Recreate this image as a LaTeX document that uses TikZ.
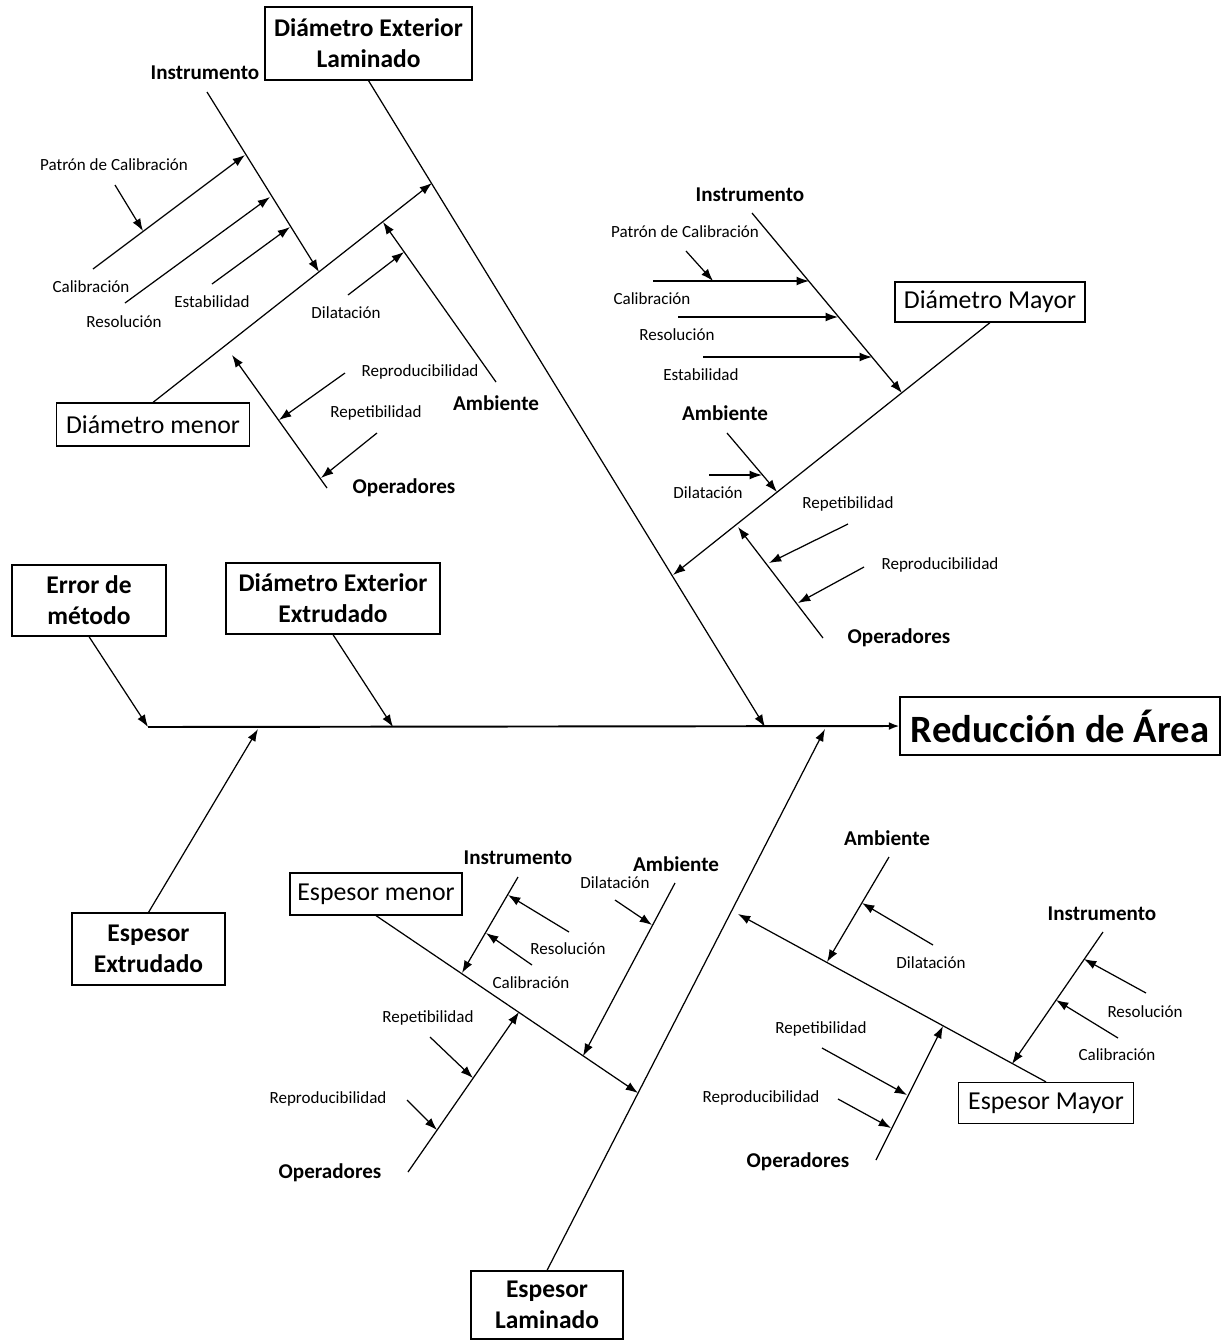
\documentclass[tikz,border=0pt]{standalone}
\usepackage{fontspec}
\setmainfont{Carlito}
\usetikzlibrary{arrows.meta, positioning}

\tikzset{
  bone/.style={line width=0.7pt},
  arr/.style={bone, -{Latex[length=7pt,width=5pt]}},
  spine/.style={line width=1.1pt, -{Latex[length=6pt,width=4.5pt]}},
  box/.style={draw, line width=0.7pt, align=center, inner sep=0pt},
  causebox/.style={box, font=\fontsize{14.5}{17.6}\selectfont\bfseries},
  partbox/.style={box, font=\fontsize{14.7}{17}\selectfont},
  effectbox/.style={box, font=\fontsize{22}{26}\selectfont\bfseries},
  group/.style={font=\fontsize{12}{14}\selectfont\bfseries},
  item/.style={font=\fontsize{9.7}{11}\selectfont},
}

\begin{document}
\begin{tikzpicture}[x=0.02cm, y=-0.02cm]
  \useasboundingbox (0,0) rectangle (1230,1340);

  % boxes
  \node[effectbox, minimum width=6.4cm, minimum height=1.16cm] (red) at (1060,726) {Reducción de Área};
  \node[causebox, minimum width=3.08cm, minimum height=1.42cm] (err) at (89,600.5) {Error de\\método};
  \node[causebox, minimum width=4.28cm, minimum height=1.42cm] (dee) at (333,598.5) {Diámetro Exterior\\Extrudado};
  \node[causebox, minimum width=4.14cm, minimum height=1.46cm] (del) at (368.5,43.5) {Diámetro Exterior\\Laminado};
  \node[causebox, minimum width=3.06cm, minimum height=1.44cm] (eex) at (148.5,949) {Espesor\\Extrudado};
  \node[causebox, minimum width=3.04cm, minimum height=1.36cm] (ela) at (547,1305) {Espesor\\Laminado};
  \node[partbox, minimum width=3.86cm, minimum height=0.86cm] (dmn) at (153,424.5) {Diámetro menor};
  \node[partbox, minimum width=3.8cm, minimum height=0.8cm] (dmy) at (990,302) {Diámetro Mayor};
  \node[partbox, minimum width=3.44cm, minimum height=0.84cm] (emn) at (376,894) {Espesor menor};
  \node[partbox, minimum width=3.5cm, minimum height=0.82cm] (emy) at (1046,1103) {Espesor Mayor};

  % main spine and causes
  \coordinate (sp0) at (148,727);
  \draw[spine] (sp0) -- (red.west);
  \coordinate (dee-e) at (393,727);
  \coordinate (del-e) at (765,727);
  \coordinate (eex-e) at (258,729);
  \coordinate (ela-e) at (825,729);
  \draw[arr] (err.south) -- (sp0);
  \draw[arr] (dee.south) -- (dee-e);
  \draw[arr] (del.south) -- (del-e);
  \draw[arr] (eex.north) -- (eex-e);
  \draw[arr] (ela.north) -- (ela-e);

  % Diametro menor
  \coordinate (dmn-e) at (432,183);
  \draw[arr] (dmn.north) -- (dmn-e);
  \coordinate (a-ins-s) at (207,92);   \coordinate (a-ins-e) at (319,272);
  \coordinate (a-cal-s) at (93,269);   \coordinate (a-cal-e) at (245,155);
  \coordinate (a-pat-s) at (115,185);  \coordinate (a-pat-e) at (143,231);
  \coordinate (a-res-s) at (125,303);  \coordinate (a-res-e) at (270,197);
  \coordinate (a-est-s) at (212,284);  \coordinate (a-est-e) at (290,227);
  \coordinate (a-amb-s) at (496,382);  \coordinate (a-amb-e) at (383,222);
  \coordinate (a-dil-s) at (348,295);  \coordinate (a-dil-e) at (404,252);
  \coordinate (a-ope-s) at (327,488);  \coordinate (a-ope-e) at (232,355);
  \coordinate (a-rep-s) at (345,373);  \coordinate (a-rep-e) at (279,420);
  \coordinate (a-ret-s) at (377,433);  \coordinate (a-ret-e) at (321,478);
  \draw[arr] (a-ins-s) -- (a-ins-e);
  \draw[arr] (a-cal-s) -- (a-cal-e);
  \draw[arr] (a-pat-s) -- (a-pat-e);
  \draw[arr] (a-res-s) -- (a-res-e);
  \draw[arr] (a-est-s) -- (a-est-e);
  \draw[arr] (a-amb-s) -- (a-amb-e);
  \draw[arr] (a-dil-s) -- (a-dil-e);
  \draw[arr] (a-ope-s) -- (a-ope-e);
  \draw[arr] (a-rep-s) -- (a-rep-e);
  \draw[arr] (a-ret-s) -- (a-ret-e);
  \node[group] (a-ins) at (205,73) {Instrumento};
  \node[item] (a-pat) at (114,165) {Patrón de Calibración};
  \node[item] (a-cal) at (91,287) {Calibración};
  \node[item] (a-res) at (124,322) {Resolución};
  \node[item] (a-est) at (212,302) {Estabilidad};
  \node[group] (a-amb) at (496,403) {Ambiente};
  \node[item] (a-dil) at (346,313) {Dilatación};
  \node[item] (a-rep) at (420,372) {Reproducibilidad};
  \node[item] (a-ret) at (376,413) {Repetibilidad};
  \node[group] (a-ope) at (404,488) {Operadores};

  % Diametro Mayor
  \coordinate (dmy-e) at (673,575);
  \draw[arr] (dmy.south) -- (dmy-e);
  \coordinate (b-ins-s) at (752,213);  \coordinate (b-ins-e) at (902,393);
  \coordinate (b-pat-s) at (686,251);  \coordinate (b-pat-e) at (713,281);
  \coordinate (b-cal-s) at (653,281);  \coordinate (b-cal-e) at (809,281);
  \coordinate (b-res-s) at (678,317);  \coordinate (b-res-e) at (838,317);
  \coordinate (b-est-s) at (703,357);  \coordinate (b-est-e) at (872,357);
  \coordinate (b-amb-s) at (727,433);  \coordinate (b-amb-e) at (777,492);
  \coordinate (b-dil-s) at (709,475);  \coordinate (b-dil-e) at (762,475);
  \coordinate (b-ope-s) at (823,638);  \coordinate (b-ope-e) at (738,527);
  \coordinate (b-ret-s) at (848,524);  \coordinate (b-ret-e) at (769,563);
  \coordinate (b-rep-s) at (864,567);  \coordinate (b-rep-e) at (798,603);
  \draw[arr] (b-ins-s) -- (b-ins-e);
  \draw[arr] (b-pat-s) -- (b-pat-e);
  \draw[arr] (b-cal-s) -- (b-cal-e);
  \draw[arr] (b-res-s) -- (b-res-e);
  \draw[arr] (b-est-s) -- (b-est-e);
  \draw[arr] (b-amb-s) -- (b-amb-e);
  \draw[arr] (b-dil-s) -- (b-dil-e);
  \draw[arr] (b-ope-s) -- (b-ope-e);
  \draw[arr] (b-ret-s) -- (b-ret-e);
  \draw[arr] (b-rep-s) -- (b-rep-e);
  \node[group] (b-ins) at (750,195) {Instrumento};
  \node[item] (b-pat) at (685,232) {Patrón de Calibración};
  \node[item] (b-cal) at (652,299) {Calibración};
  \node[item] (b-res) at (677,335) {Resolución};
  \node[item] (b-est) at (701,375) {Estabilidad};
  \node[group] (b-amb) at (725,413) {Ambiente};
  \node[item] (b-dil) at (708,493) {Dilatación};
  \node[item] (b-ret) at (848,504) {Repetibilidad};
  \node[item] (b-rep) at (940,565) {Reproducibilidad};
  \node[group] (b-ope) at (899,638) {Operadores};

  % Espesor menor
  \coordinate (emn-e) at (638,1093);
  \draw[arr] (emn.south) -- (emn-e);
  \coordinate (c-ins-s) at (518,877);  \coordinate (c-ins-e) at (462,973);
  \coordinate (c-res-s) at (569,932);  \coordinate (c-res-e) at (508,895);
  \coordinate (c-cal-s) at (532,965);  \coordinate (c-cal-e) at (486,933);
  \coordinate (c-amb-s) at (675,883);  \coordinate (c-amb-e) at (583,1056);
  \coordinate (c-dil-s) at (615,900);  \coordinate (c-dil-e) at (652,925);
  \coordinate (c-ope-s) at (408,1172); \coordinate (c-ope-e) at (519,1012);
  \coordinate (c-ret-s) at (430,1037); \coordinate (c-ret-e) at (473,1078);
  \coordinate (c-rep-s) at (407,1100); \coordinate (c-rep-e) at (437,1130);
  \draw[arr] (c-ins-s) -- (c-ins-e);
  \draw[arr] (c-res-s) -- (c-res-e);
  \draw[arr] (c-cal-s) -- (c-cal-e);
  \draw[arr] (c-amb-s) -- (c-amb-e);
  \draw[arr] (c-dil-s) -- (c-dil-e);
  \draw[arr] (c-ope-s) -- (c-ope-e);
  \draw[arr] (c-ret-s) -- (c-ret-e);
  \draw[arr] (c-rep-s) -- (c-rep-e);
  \node[group] (c-ins) at (518,858) {Instrumento};
  \node[item] (c-res) at (568,949) {Resolución};
  \node[item] (c-cal) at (531,983) {Calibración};
  \node[group] (c-amb) at (676,864) {Ambiente};
  \node[item] (c-dil) at (615,883) {Dilatación};
  \node[item] (c-ret) at (428,1018) {Repetibilidad};
  \node[item] (c-rep) at (328,1099) {Reproducibilidad};
  \node[group] (c-ope) at (330,1173) {Operadores};

  % Espesor Mayor
  \coordinate (emy-e) at (738,914);
  \draw[arr] (emy.north) -- (emy-e);
  \coordinate (d-amb-s) at (889,857);  \coordinate (d-amb-e) at (827,962);
  \coordinate (d-dil-s) at (933,945);  \coordinate (d-dil-e) at (862,903);
  \coordinate (d-ins-s) at (1103,932); \coordinate (d-ins-e) at (1012,1064);
  \coordinate (d-res-s) at (1146,993); \coordinate (d-res-e) at (1084,959);
  \coordinate (d-cal-s) at (1118,1038);\coordinate (d-cal-e) at (1056,1000);
  \coordinate (d-ope-s) at (876,1160); \coordinate (d-ope-e) at (943,1026);
  \coordinate (d-ret-s) at (822,1048); \coordinate (d-ret-e) at (907,1095);
  \coordinate (d-rep-s) at (838,1099); \coordinate (d-rep-e) at (891,1128);
  \draw[arr] (d-amb-s) -- (d-amb-e);
  \draw[arr] (d-dil-s) -- (d-dil-e);
  \draw[arr] (d-ins-s) -- (d-ins-e);
  \draw[arr] (d-res-s) -- (d-res-e);
  \draw[arr] (d-cal-s) -- (d-cal-e);
  \draw[arr] (d-ope-s) -- (d-ope-e);
  \draw[arr] (d-ret-s) -- (d-ret-e);
  \draw[arr] (d-rep-s) -- (d-rep-e);
  \node[group] (d-amb) at (887,838) {Ambiente};
  \node[item] (d-dil) at (931,963) {Dilatación};
  \node[group] (d-ins) at (1102,914) {Instrumento};
  \node[item] (d-res) at (1145,1012) {Resolución};
  \node[item] (d-cal) at (1117,1055) {Calibración};
  \node[item] (d-ret) at (821,1029) {Repetibilidad};
  \node[item] (d-rep) at (761,1098) {Reproducibilidad};
  \node[group] (d-ope) at (798,1162) {Operadores};
\end{tikzpicture}
\end{document}
